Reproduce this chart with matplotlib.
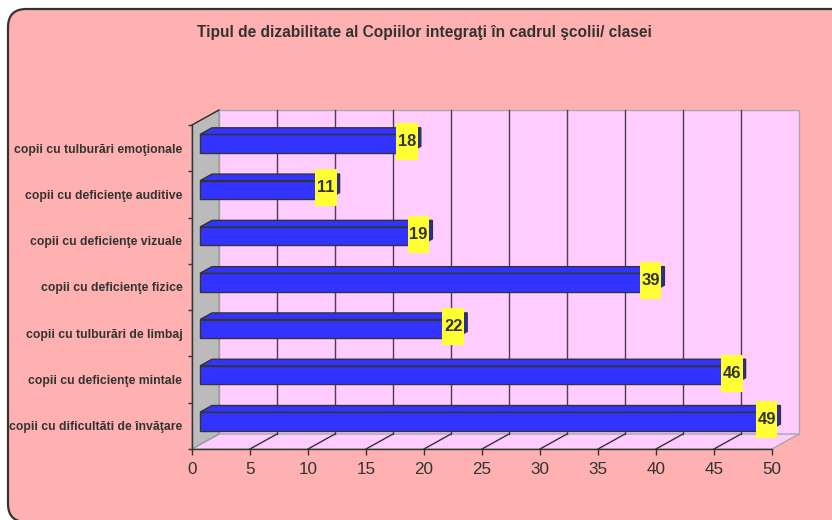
import matplotlib
matplotlib.use("Agg")
import matplotlib.pyplot as plt
from matplotlib.patches import Polygon, Rectangle, FancyBboxPatch
from matplotlib import font_manager
import numpy as np

# ---------------- data ----------------
categories = [
    "copii cu dificultăti de învăţare",
    "copii cu deficienţe mintale",
    "copii cu tulburări de limbaj",
    "copii cu deficienţe fizice",
    "copii cu deficienţe vizuale",
    "copii cu deficienţe auditive",
    "copii cu tulburări emoţionale",
]
values = [49, 46, 22, 39, 19, 11, 18]
x_ticks = [0, 5, 10, 15, 20, 25, 30, 35, 40, 45, 50]
title = "Tipul de dizabilitate al Copiilor integraţi în cadrul şcolii/ clasei"

# ---------------- fonts ----------------
names = {f.name for f in font_manager.fontManager.ttflist}
if "Liberation Sans Narrow" in names:
    FONT = ["Liberation Sans Narrow", "DejaVu Sans"]
    scale = 1.0
else:
    FONT = ["Liberation Sans", "DejaVu Sans"]
    scale = 0.88
plt.rcParams["font.family"] = FONT

W, H = 832, 520
fig = plt.figure(figsize=(W / 100, H / 100), dpi=100)
fig.patch.set_facecolor("white")

# outer rounded frame
frame = FancyBboxPatch((8 / W, -2 / H), (850 - 8) / W, (H - 9 + 2) / H,
                       boxstyle="round,pad=0,rounding_size=0.022",
                       transform=fig.transFigure, facecolor="#FFB0B0",
                       edgecolor="#333333", linewidth=1.6, zorder=-5,
                       mutation_aspect=W / H)
fig.patches.append(frame)

fig.text(424 / W, 1 - 33 / H, title, ha="center", va="center",
         fontsize=11.2, fontweight="bold", color="#333333")

# axes = front plane
ax = fig.add_axes([192 / W, (H - 449) / H, 580 / W, 324 / H])
ax.set_zorder(1)
ax.set_xlim(x_ticks[0], x_ticks[-1])
ax.set_ylim(0, len(categories))
ax.patch.set_visible(False)

# depth offsets (pixels -> data)
inv = ax.transData.inverted()
o = ax.transData.transform((0, 0))
dx, dy = inv.transform(o + np.array([27.0, 15.0])) - inv.transform(o)
px_x, px_y = inv.transform(o + np.array([1.0, 1.0])) - inv.transform(o)

xmax = x_ticks[-1]
ncat = len(categories)
WALL = "#FFCCFF"
kw = dict(clip_on=False)

# back wall
ax.add_patch(Polygon([(dx, dy), (xmax + dx, dy), (xmax + dx, ncat + dy), (dx, ncat + dy)],
                     closed=True, facecolor=WALL, edgecolor="#A8A8A8", lw=1, zorder=0, **kw))
# floor
ax.add_patch(Polygon([(0, 0), (xmax, 0), (xmax + dx, dy), (dx, dy)],
                     closed=True, facecolor=WALL, edgecolor="#A8A8A8", lw=1, zorder=0, **kw))
# left wall
ax.add_patch(Polygon([(0, 0), (0, ncat), (dx, ncat + dy), (dx, dy)],
                     closed=True, facecolor="#BBBBBB", edgecolor="#999999", lw=1, zorder=0.5, **kw))
ax.plot([0, dx], [ncat, ncat + dy], color="#333333", lw=1, zorder=1, **kw)

# gridlines
for v in x_ticks[1:-1]:
    ax.plot([v + dx, v + dx], [dy, ncat + dy], color="#4d3f4d", lw=1, zorder=1, **kw)
    ax.plot([v, v + dx], [0, dy], color="#333333", lw=1, zorder=1, **kw)

# bars
d1, d2 = 0.3, 0.74
bh = 18.5 * px_y
ddx, ddy = (d2 - d1) * dx, (d2 - d1) * dy
for i, v in enumerate(values):
    x0 = d1 * dx
    yb = i + 0.5 - bh / 2 + d1 * dy
    yt = yb + bh
    ax.add_patch(Polygon([(x0, yb), (x0 + v, yb), (x0 + v, yt), (x0, yt)],
                         closed=True, facecolor="#3333FF", edgecolor="#333333", lw=1, zorder=3, **kw))
    ax.add_patch(Polygon([(x0, yt), (x0 + v, yt), (x0 + v + ddx, yt + ddy), (x0 + ddx, yt + ddy)],
                         closed=True, facecolor="#3333FF", edgecolor="#333333", lw=1, zorder=3, **kw))
    ax.add_patch(Polygon([(x0 + v, yb), (x0 + v + ddx, yb + ddy), (x0 + v + ddx, yt + ddy), (x0 + v, yt)],
                         closed=True, facecolor="#2B2BA8", edgecolor="#333333", lw=1, zorder=3, **kw))
    # data label
    cx = x0 + v - 2 * px_x
    cy = (yb + yt) / 2 + ddy * 0.3
    bw, bhh = 22 * px_x, 37 * px_y
    ax.add_patch(Rectangle((cx - bw / 2, cy - bhh / 2), bw, bhh, facecolor="#FFFF33",
                           edgecolor="none", zorder=4, **kw))
    ax.text(cx, cy, str(v), ha="center", va="center", fontsize=13.5 * scale,
            fontweight="bold", color="#333333", zorder=5, **kw)

# axes spines / ticks
for s in ["top", "right"]:
    ax.spines[s].set_visible(False)
for s in ["bottom", "left"]:
    ax.spines[s].set_color("#333333")
    ax.spines[s].set_linewidth(1)
    ax.spines[s].set_zorder(2)

ax.set_xticks(x_ticks)
ax.set_xticklabels([str(t) for t in x_ticks])
ax.tick_params(axis="x", direction="out", length=4, width=1, color="#333333",
               labelsize=14 * scale, labelcolor="#333333", pad=5.5)

ax.set_yticks(range(ncat + 1))
ax.set_yticklabels([])
ax.set_yticks([i + 0.5 for i in range(ncat)], minor=True)
ax.set_yticklabels(categories, minor=True)
ax.tick_params(axis="y", which="major", direction="out", length=3, width=1, color="#333333")
ax.tick_params(axis="y", which="minor", length=0, pad=7, labelsize=10 * scale,
               labelcolor="#333333")
for lab in ax.get_yticklabels(minor=True):
    lab.set_fontweight("bold")

fig.savefig("out.png", dpi=100, facecolor=fig.get_facecolor())
